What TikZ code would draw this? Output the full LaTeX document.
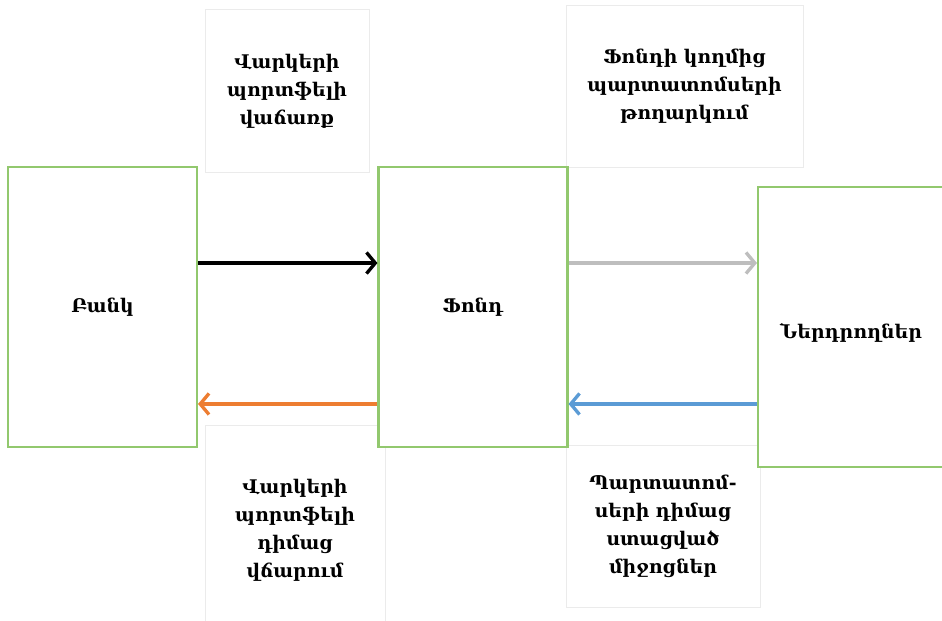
\documentclass[tikz,border=0pt]{standalone}
\usepackage{fontspec}
\setmainfont{DejaVu Serif}
\usetikzlibrary{arrows.meta}
\definecolor{boxgreen}{RGB}{146,200,110}
\definecolor{arrgray}{RGB}{190,190,190}
\definecolor{arrorange}{RGB}{237,125,49}
\definecolor{arrblue}{RGB}{91,155,213}

\begin{document}
\begin{tikzpicture}[x=0.02cm,y=-0.02cm,
    party/.style={draw=boxgreen,line width=1.2pt,fill=white,minimum width=3.78cm,
      minimum height=5.6cm,inner sep=0pt,font=\bfseries\fontsize{10.7pt}{16pt}\selectfont},
    note/.style={draw=black!8,fill=white,inner sep=0pt,align=center,
      font=\bfseries\fontsize{10.7pt}{16pt}\selectfont,text width=3.2cm},
    flow/.style={line width=1.9pt,-{Straight Barb[length=5pt,width=12pt]}}]
    \useasboundingbox (0,0) rectangle (942,620);
    \clip (0,0) rectangle (942,620);
    % labels for the flows
    \node[note,minimum width=3.28cm,minimum height=3.26cm] (salenote) at (287,91)
      {Վարկերի\\պորտֆելի\\վաճառք};
    \node[note,text width=4.4cm,minimum width=4.74cm,minimum height=3.24cm] (bondnote) at (684.5,86)
      {Ֆոնդի կողմից\\պարտատոմսերի\\թողարկում};
    \node[note,minimum width=3.6cm,minimum height=4.2cm] (paynote) at (295,530)
      {Վարկերի\\պորտֆելի\\դիմաց\\վճարում};
    \node[note,minimum width=3.88cm,minimum height=3.24cm] (cashnote) at (663,526)
      {Պարտատոմ-\\սերի դիմաց\\ստացված\\միջոցներ};
    % the three parties
    \node[party] (bank) at (102.5,307) {Բանկ};
    \node[party] (fund) at (473,307) {Ֆոնդ};
    \node[party,minimum width=4cm] (inv) at (858,327) {};
    \node[font=\bfseries\fontsize{10.7pt}{16pt}\selectfont] (invtext) at (851,333) {Ներդրողներ};
    % flows
    \draw[flow,black] ([yshift=0.88cm]bank.east) -- ([yshift=0.88cm]fund.west);
    \draw[flow,arrgray] ([yshift=0.88cm]fund.east) -- ([yshift=0.88cm]fund.east -| inv.west);
    \draw[flow,arrorange] ([yshift=-1.94cm]fund.west) -- ([yshift=-1.94cm]bank.east);
    \draw[flow,arrblue] ([yshift=-1.94cm]fund.east -| inv.west) -- ([yshift=-1.94cm]fund.east);
\end{tikzpicture}
\end{document}
